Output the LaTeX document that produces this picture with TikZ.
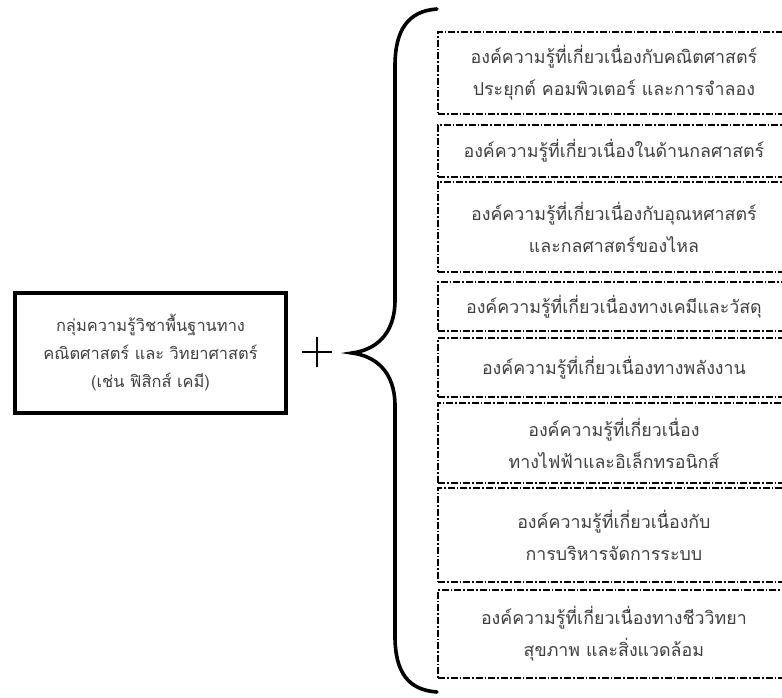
\documentclass[tikz,border=0pt]{standalone}
\usepackage{fontspec}
\newfontfamily\thaifont[Script=Thai]{Loma}
\begin{document}
\begin{tikzpicture}[x=1pt,y=-1pt,
  txt/.style={font={\thaifont\fontsize{17.8}{32}\selectfont}, text=black!75, align=center, inner sep=0pt},
  rbox/.style={txt, draw=black, line width=1.8pt, dash pattern=on 7pt off 2pt on 1.6pt off 2pt,
     anchor=north west, minimum width=352pt},
  lbox/.style={txt, draw=black, line width=3.2pt, minimum width=271pt, minimum height=120pt, font={\thaifont\fontsize{16.4}{28}\selectfont}},
  brace/.style={line width=3.6pt, line cap=round},
  plus/.style={line width=2pt}
]
\useasboundingbox (0,0) rectangle (782,697);
\clip (0,0) rectangle (782,697);
\fill[white] (0,0) rectangle (782,697);

\node[lbox] (base) at (150.5,353) {กลุ่มความรู้วิชาพื้นฐานทาง\\คณิตศาสตร์ และ วิทยาศาสตร์\\(เช่น ฟิสิกส์ เคมี)};

\coordinate (pl) at (302,352); \coordinate (pr) at (332,352);
\coordinate (pt) at (317,337); \coordinate (pb) at (317,367);
\draw[plus] (pl) -- (pr);
\draw[plus] (pt) -- (pb);

\coordinate (btop) at (437,9);
\coordinate (btip) at (352,353);
\coordinate (bbot) at (437,692);
\draw[brace] (btop) .. controls (408,11) and (395,30) .. (395,66)
   -- (395,300) .. controls (395,335) and (375,350) .. (btip)
   .. controls (375,356) and (395,371) .. (395,406)
   -- (395,636) .. controls (395,672) and (408,690) .. (bbot);

\node[rbox, minimum height=82pt] (k1) at (437,31) {องค์ความรู้ที่เกี่ยวเนื่องกับคณิตศาสตร์\\ประยุกต์ คอมพิวเตอร์ และการจำลอง};
\node[rbox, minimum height=52pt] (k2) at (437,124) {องค์ความรู้ที่เกี่ยวเนื่องในด้านกลศาสตร์};
\node[rbox, minimum height=90pt] (k3) at (437,181) {องค์ความรู้ที่เกี่ยวเนื่องกับอุณหศาสตร์\\และกลศาสตร์ของไหล};
\node[rbox, minimum height=49pt] (k4) at (437,281) {องค์ความรู้ที่เกี่ยวเนื่องทางเคมีและวัสดุ};
\node[rbox, minimum height=59pt] (k5) at (437,337) {องค์ความรู้ที่เกี่ยวเนื่องทางพลังงาน};
\node[rbox, minimum height=80pt] (k6) at (437,402) {องค์ความรู้ที่เกี่ยวเนื่อง\\ทางไฟฟ้าและอิเล็กทรอนิกส์};
\node[rbox, minimum height=94pt] (k7) at (437,487) {องค์ความรู้ที่เกี่ยวเนื่องกับ\\การบริหารจัดการระบบ};
\node[rbox, minimum height=88pt] (k8) at (437,589) {องค์ความรู้ที่เกี่ยวเนื่องทางชีววิทยา\\สุขภาพ และสิ่งแวดล้อม};
\end{tikzpicture}
\end{document}
